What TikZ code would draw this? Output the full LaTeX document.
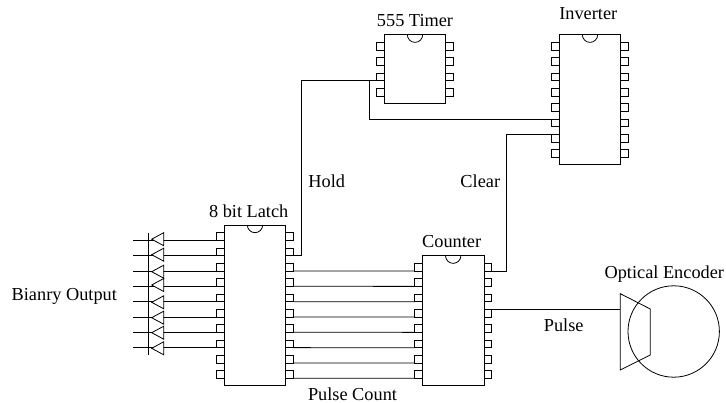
\documentclass[tikz,border=0pt]{standalone}
\usepackage{fontspec}
\setmainfont{Liberation Serif}
\tikzset{
  chipbody/.style={draw,fill=white,minimum width=61.4pt,inner sep=0pt,outer sep=0pt},
  pinbox/.style={draw,fill=white,minimum width=7.67pt,minimum height=7.67pt,inner sep=0pt,outer sep=0pt},
  lbl/.style={anchor=base,inner sep=0pt,font=\fontsize{18.3}{20}\selectfont},
  wire/.style={draw,line width=0.8pt},
  every path/.append style={line width=0.8pt}
}
\newcommand{\chipic}[5]{% name, cx, top, bottom, pins per side
  \pgfmathsetmacro{\chh}{#4-#3}
  \pgfmathsetmacro{\chy}{-(#3+#4)/2}
  \foreach \i in {1,...,#5}{
    \pgfmathsetmacro{\py}{-(#3+15.33*\i-3.83)}
    \node[pinbox] (#1L\i) at ({#2-34.53},\py) {};
    \node[pinbox] (#1R\i) at ({#2+34.53},\py) {};
  }
  \node[chipbody,minimum height=\chh pt] (#1) at (#2,\chy) {};
  \draw ([xshift=-7.67pt]#1.north) arc[start angle=180,end angle=360,radius=7.67pt];
}
\begin{document}
\begin{tikzpicture}[x=1pt,y=1pt]
\useasboundingbox (0,0) rectangle (726,-403);
\chipic{latch}{255}{225}{385}{10}
\chipic{timer}{415}{34.7}{103.3}{4}
\chipic{inv}{590}{34.7}{164}{8}
\chipic{counter}{453.2}{255.7}{385}{8}

% latch to counter
\foreach \a/\b in {3/1,4/2,5/3,6/4,7/5,8/6,9/7,10/8}
  \draw[wire] (latchR\a.south east) -- (counterL\b.south west);

% outputs and buffers
\coordinate (busout) at (133.3,0);
\coordinate (bara) at (148.3,-232.7);
\coordinate (barb) at (148.3,-354.7);
\foreach \n/\c in {1/239.2,2/254.7,3/271.7,4/285,5/302.3,6/317.7,7/332.7,8/348.3}{
  \draw[wire] (latchL\n.south west) -- (latchL\n.south west -| busout);
  \coordinate (tip\n) at (151.7,-\c);
  \draw[fill=white] (tip\n) -- ++(12,6.5) -- ++(0,-13) -- cycle;
}
\draw[wire] (bara) -- (barb);

% control wires
\coordinate (holdc) at (301,0);
\coordinate (tapc) at (369,0);
\draw[wire] (latchR2.south east) -| (holdc |- timerL3.south west) -- (timerL3.south west);
\draw[wire] (tapc |- timerL3.south west) |- (invL6.north west);
\coordinate (clearc) at (506.7,0);
\draw[wire] (counterR1.south east) -| (clearc |- invL7.north west) -- (invL7.north west);

% encoder
\node[draw,circle,minimum size=91.4pt,inner sep=0pt,outer sep=0pt] (disc) at (673.7,-331.5) {};
\coordinate (ea) at (620.3,-293.7);
\coordinate (eb) at (650.3,-309);
\coordinate (ec) at (650.3,-355);
\coordinate (ed) at (620.3,-370);
\draw (ea) -- (eb) -- (ec) -- (ed) -- cycle;
\draw[wire] (counterR4.north east) -- (counterR4.north east -| ea);

% labels
\node[lbl] (t1) at (248.7,-217.3) {8 bit Latch};
\node[lbl] (t2) at (415,-26.7) {555 Timer};
\node[lbl] (t3) at (588.3,-20) {Inverter};
\node[lbl] (t4) at (326.7,-187.3) {Hold};
\node[lbl] (t5) at (480.3,-187.3) {Clear};
\node[lbl] (t6) at (451.7,-248) {Counter};
\node[lbl] (t7) at (664.3,-279) {Optical Encoder};
\node[lbl] (t8) at (563.7,-332) {Pulse};
\node[lbl] (t9) at (352.5,-400) {Pulse Count};
\node[lbl] (t10) at (64.3,-300.7) {Bianry Output};
\end{tikzpicture}
\end{document}
